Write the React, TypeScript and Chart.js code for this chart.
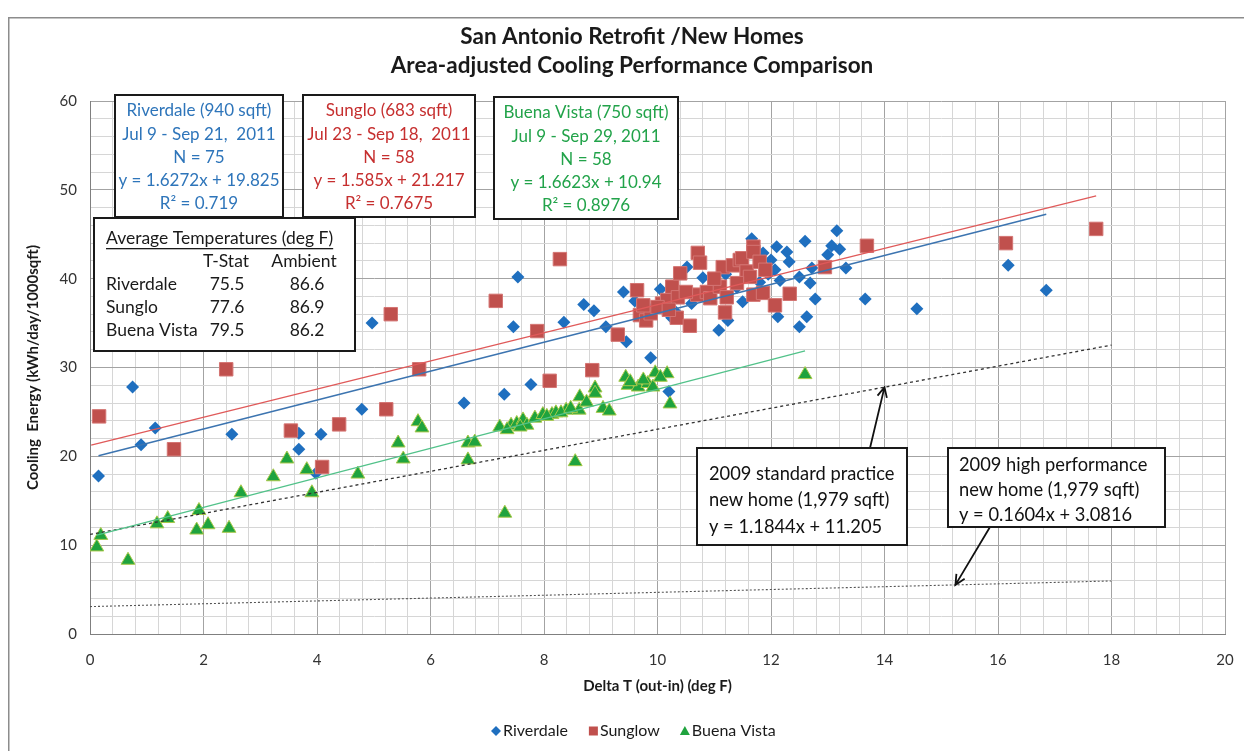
import { useEffect, useRef } from 'react';
import { Chart, registerables } from 'chart.js';

Chart.register(...registerables);

// ---- Measured series (Delta T in deg F, cooling energy in kWh/day/1000sqft) ----
const riverdaleX = [
  0.15, 0.75, 0.9, 1.15, 2.5, 3.68, 3.68, 3.98, 4.07, 4.79, 4.97, 6.59, 7.3, 7.46, 7.54, 7.77,
  8.35, 8.7, 8.88, 9.09, 9.4, 9.45, 9.88, 10.05, 10.2, 10.25, 10.52, 10.8, 11.08, 11.24, 11.5,
  11.66, 11.86, 11.95, 12.0, 12.07, 12.1, 12.16, 12.12, 12.28, 12.32, 12.5, 12.5, 12.6, 12.63,
  12.69, 12.72, 12.78, 13.0, 13.07, 13.16, 13.21, 13.32, 13.66, 14.57, 16.18, 16.85,
  10.3, 10.9, 11.4, 11.8, 9.9, 10.6, 11.2, 9.6,
];
const riverdaleY = [
  17.8, 27.8, 21.3, 23.2, 22.5, 22.6, 20.8, 18.1, 22.5, 25.3, 35.0, 26.0, 27.0, 34.6, 40.2, 28.1,
  35.1, 37.1, 36.4, 34.6, 38.5, 32.9, 31.1, 38.8, 27.3, 35.6, 41.3, 40.1, 34.2, 35.3, 37.4,
  44.5, 42.9, 40.5, 42.1, 41.0, 43.6, 39.8, 35.7, 43.0, 41.9, 40.2, 34.6, 44.2, 35.7,
  39.5, 41.2, 37.7, 42.7, 43.7, 45.4, 43.3, 41.2, 37.7, 36.6, 41.5, 38.7,
  36.4, 38.2, 39.0, 39.6, 36.6, 37.2, 40.5, 37.5,
];

const sungloX = [
  0.16, 1.48, 2.4, 3.54, 4.09, 4.39, 5.22, 5.3, 5.8, 7.15, 7.88, 8.1, 8.28, 8.85, 9.3, 9.64,
  9.69, 9.8, 9.88, 10.08, 10.17, 10.26, 10.34, 10.36, 10.4, 10.57, 10.7, 10.71, 10.75, 10.87,
  10.93, 11.1, 11.15, 11.19, 11.22, 11.33, 11.45, 11.49, 11.57, 11.63, 11.69, 11.69, 11.69,
  11.8, 11.86, 12.07, 12.33, 12.95, 13.69, 16.14, 17.73,
  10.5, 11.0, 10.0, 11.4, 11.9, 10.2, 9.75,
];
const sungloY = [
  24.5, 20.8, 29.8, 22.9, 18.8, 23.6, 25.3, 36.0, 29.8, 37.5, 34.1, 28.5, 42.2, 29.7, 33.7, 38.7,
  35.9, 35.3, 36.1, 37.2, 37.6, 39.1, 35.6, 37.9, 40.6, 34.7, 38.2, 42.9, 41.8, 38.5,
  37.8, 39.1, 41.3, 36.2, 37.9, 41.5, 42.1, 42.3, 40.8, 40.2, 43.6, 43.0, 38.2,
  41.9, 38.4, 37.0, 38.3, 41.3, 43.7, 44.0, 45.6,
  38.5, 40.0, 36.8, 39.5, 41.0, 36.5, 37.0,
];

const buenaVistaX = [
  0.12, 0.19, 0.67, 1.18, 1.37, 1.88, 1.92, 2.08, 2.45, 2.66, 3.23, 3.47, 3.82, 3.91, 4.72,
  5.43, 5.52, 5.78, 5.85, 6.66, 6.78, 6.66, 7.22, 7.31, 7.42, 7.52, 7.63, 7.7, 7.84, 7.98,
  8.14, 8.21, 8.39, 8.55, 8.62, 8.63, 8.9, 8.9, 9.04, 9.15, 9.44, 9.48, 9.66, 9.83, 9.96,
  9.92, 10.17, 10.22, 12.6,
  7.35, 7.58, 8.05, 8.3, 8.47, 9.52, 9.75, 10.05, 8.75,
];
const buenaVistaY = [
  9.8, 11.1, 8.3, 12.4, 13.0, 11.7, 13.9, 12.3, 11.9, 15.9, 17.7, 19.7, 18.5, 15.9, 18.0,
  21.5, 19.7, 23.9, 23.2, 21.5, 21.6, 19.6, 23.3, 13.6, 23.5, 23.7, 24.1, 23.5, 24.3, 24.7,
  24.7, 24.9, 25.2, 19.4, 25.2, 26.7, 27.7, 27.1, 25.4, 25.1, 28.9, 28.0, 27.8, 28.2, 29.4,
  27.8, 29.3, 25.9, 29.2,
  23.0, 23.3, 24.5, 24.9, 25.4, 28.4, 28.6, 28.9, 26.1,
];

// ---- Linear fits: [slope, intercept] and the x span each line covers ----
const riverdaleFit = [1.6272, 19.825];
const sungloFit = [1.585, 21.217];
const buenaVistaFit = [1.6623, 10.94];
const standardFit = [1.1844, 11.205];
const highPerfFit = [0.1604, 3.0816];

const riverdaleFitRange = [0.15, 16.85];
const sungloFitRange = [0.02, 17.73];
const buenaVistaFitRange = [0.12, 12.6];
const referenceFitRange = [0, 18];

// ---- Axis ticks ----
const xTickLabels = [0, 2, 4, 6, 8, 10, 12, 14, 16, 18, 20];
const yTickLabels = [0, 10, 20, 30, 40, 50, 60];

// ---- Text blocks ----
const titleLines = ['San Antonio Retrofit /New Homes', 'Area-adjusted Cooling Performance Comparison'];
const riverdaleBox = ['Riverdale (940 sqft)', 'Jul 9 - Sep 21,  2011', 'N = 75', 'y = 1.6272x + 19.825', 'R² = 0.719'];
const sungloBox = ['Sunglo (683 sqft)', 'Jul 23 - Sep 18,  2011', 'N = 58', 'y = 1.585x + 21.217', 'R² = 0.7675'];
const buenaVistaBox = ['Buena Vista (750 sqft)', 'Jul 9 - Sep 29, 2011', 'N = 58', 'y = 1.6623x + 10.94', 'R² = 0.8976'];
const tempHeaders = ['T-Stat', 'Ambient'];
const tempSites = ['Riverdale', 'Sunglo', 'Buena Vista'];
const tempTStat = ['75.5', '77.6', '79.5'];
const tempAmbient = ['86.6', '86.9', '86.2'];
const standardNote = ['2009 standard practice', 'new home (1,979 sqft)', 'y = 1.1844x + 11.205'];
const highPerfNote = ['2009 high performance', 'new home (1,979 sqft)', 'y = 0.1604x + 3.0816'];
const legendLabels = ['Riverdale', 'Sunglow', 'Buena Vista'];

const BLUE = '#1F6FBF';
const RED = '#C0504D';
const GREEN = '#1FA33E';
const FONT = 'Lato, "Open Sans", sans-serif';

const pts = (xs: number[], ys: number[]) => xs.map((x, i) => ({ x, y: ys[i] }));
const fitLine = (fit: number[], range: number[]) =>
  range.map((x) => ({ x, y: fit[0] * x + fit[1] }));
const isMultiple = (v: number, step: number) => Math.abs(v / step - Math.round(v / step)) < 1e-6;

function drawBox(ctx: CanvasRenderingContext2D, x: number, y: number, w: number, h: number) {
  ctx.save();
  ctx.fillStyle = '#ffffff';
  ctx.fillRect(x, y, w, h);
  ctx.strokeStyle = '#1a1a1a';
  ctx.lineWidth = 2;
  ctx.strokeRect(x, y, w, h);
  ctx.restore();
}

function drawCentredLines(ctx: CanvasRenderingContext2D, lines: string[], cx: number, y0: number, step: number, color: string) {
  ctx.save();
  ctx.fillStyle = color;
  ctx.font = `17px ${FONT}`;
  ctx.textAlign = 'center';
  ctx.textBaseline = 'middle';
  lines.forEach((t, i) => ctx.fillText(t, cx, y0 + i * step));
  ctx.restore();
}

function drawArrow(ctx: CanvasRenderingContext2D, x0: number, y0: number, x1: number, y1: number) {
  const ang = Math.atan2(y1 - y0, x1 - x0);
  const head = 11;
  ctx.save();
  ctx.strokeStyle = '#111';
  ctx.lineWidth = 1.8;
  ctx.beginPath();
  ctx.moveTo(x0, y0);
  ctx.lineTo(x1, y1);
  ctx.moveTo(x1 - head * Math.cos(ang - 0.45), y1 - head * Math.sin(ang - 0.45));
  ctx.lineTo(x1, y1);
  ctx.lineTo(x1 - head * Math.cos(ang + 0.45), y1 - head * Math.sin(ang + 0.45));
  ctx.stroke();
  ctx.restore();
}

const overlayPlugin = {
  id: 'overlay',
  afterDraw(chart: any) {
    const ctx: CanvasRenderingContext2D = chart.ctx;
    const xs = chart.scales.x;
    const ys = chart.scales.y;
    const area = chart.chartArea;
    const cx = (area.left + area.right) / 2;

    // outer frame
    ctx.save();
    ctx.strokeStyle = '#8c8c8c';
    ctx.lineWidth = 1.5;
    ctx.strokeRect(0.75, 9.75, chart.width - 5, chart.height + 20);
    ctx.restore();

    // title
    ctx.save();
    ctx.fillStyle = '#1a1a1a';
    ctx.font = `bold 22.5px ${FONT}`;
    ctx.textAlign = 'center';
    ctx.textBaseline = 'middle';
    ctx.fillText(titleLines[0], 624, 29);
    ctx.fillText(titleLines[1], 624, 58);
    ctx.restore();

    // axis titles
    ctx.save();
    ctx.fillStyle = '#1a1a1a';
    ctx.font = `bold 15px ${FONT}`;
    ctx.textAlign = 'center';
    ctx.textBaseline = 'middle';
    ctx.fillText('Delta T (out-in) (deg F)', cx, 678);
    ctx.translate(25, (area.top + area.bottom) / 2);
    ctx.rotate(-Math.PI / 2);
    ctx.fillText('Cooling  Energy (kWh/day/1000sqft)', 0, 0);
    ctx.restore();

    // site boxes
    drawBox(ctx, 107, 87, 168, 122);
    drawCentredLines(ctx, riverdaleBox, 191, 103, 23.1, '#2E75BA');
    drawBox(ctx, 295, 87, 172, 122);
    drawCentredLines(ctx, sungloBox, 381, 103, 23.1, '#C62F2F');
    drawBox(ctx, 486, 89, 184, 122);
    drawCentredLines(ctx, buenaVistaBox, 578, 105, 23.1, '#22A34A');

    // average temperatures table
    drawBox(ctx, 86, 210, 261, 133);
    ctx.save();
    ctx.fillStyle = '#1a1a1a';
    ctx.font = `17.5px ${FONT}`;
    ctx.textBaseline = 'middle';
    ctx.textAlign = 'left';
    const heading = 'Average Temperatures (deg F)';
    ctx.fillText(heading, 98, 230);
    const hw = ctx.measureText(heading).width;
    ctx.fillRect(98, 240, hw, 1.3);
    ctx.textAlign = 'center';
    ctx.fillText(tempHeaders[0], 218, 253);
    ctx.fillText(tempHeaders[1], 296, 253);
    tempSites.forEach((s, i) => {
      const y = 276 + i * 23;
      ctx.textAlign = 'left';
      ctx.fillText(s, 98, y);
      ctx.textAlign = 'center';
      ctx.fillText(tempTStat[i], 219, y);
      ctx.fillText(tempAmbient[i], 299, y);
    });
    ctx.restore();

    // reference-home notes with arrows to their lines
    const tipStdX = 14;
    const tipHpX = 15.25;
    drawArrow(ctx, 862, 440, xs.getPixelForValue(tipStdX), ys.getPixelForValue(standardFit[0] * tipStdX + standardFit[1]));
    drawArrow(ctx, 982, 519, xs.getPixelForValue(tipHpX), ys.getPixelForValue(highPerfFit[0] * tipHpX + highPerfFit[1]));

    drawBox(ctx, 689, 440, 210, 97);
    drawBox(ctx, 940, 440, 217, 79);
    ctx.save();
    ctx.fillStyle = '#111';
    ctx.font = `18.3px ${FONT}`;
    ctx.textAlign = 'left';
    ctx.textBaseline = 'middle';
    standardNote.forEach((t, i) => ctx.fillText(t, 701, 466 + i * 26.5));
    highPerfNote.forEach((t, i) => ctx.fillText(t, 951, 457 + i * 25));
    ctx.restore();

    // legend
    ctx.save();
    ctx.font = `16px ${FONT}`;
    ctx.textBaseline = 'middle';
    ctx.textAlign = 'left';
    const ly = 723;
    let lx = 483;
    const colors = [BLUE, RED, GREEN];
    legendLabels.forEach((label, i) => {
      ctx.fillStyle = colors[i];
      ctx.beginPath();
      if (i === 0) {
        ctx.moveTo(lx + 5, ly - 5);
        ctx.lineTo(lx + 10, ly);
        ctx.lineTo(lx + 5, ly + 5);
        ctx.lineTo(lx, ly);
      } else if (i === 1) {
        ctx.rect(lx + 1, ly - 4.5, 9, 9);
      } else {
        ctx.moveTo(lx + 5, ly - 5);
        ctx.lineTo(lx + 10, ly + 4);
        ctx.lineTo(lx, ly + 4);
      }
      ctx.closePath();
      ctx.fill();
      ctx.fillStyle = '#1a1a1a';
      ctx.fillText(label, lx + 12, ly);
      lx += 12 + ctx.measureText(label).width + 20;
    });
    ctx.restore();
  },
};

export default function App() {
  const canvasRef = useRef<HTMLCanvasElement | null>(null);

  useEffect(() => {
    if (!canvasRef.current) return;
    const chart = new Chart(canvasRef.current, {
      type: 'scatter',
      data: {
        datasets: [
          {
            label: 'Riverdale fit',
            type: 'line',
            data: fitLine(riverdaleFit, riverdaleFitRange),
            borderColor: '#3C74B0',
            borderWidth: 1.5,
            pointRadius: 0,
            order: 0,
          },
          {
            label: 'Sunglow fit',
            type: 'line',
            data: fitLine(sungloFit, sungloFitRange),
            borderColor: '#E05A5A',
            borderWidth: 1.3,
            pointRadius: 0,
            order: 0,
          },
          {
            label: 'Buena Vista fit',
            type: 'line',
            data: fitLine(buenaVistaFit, buenaVistaFitRange),
            borderColor: '#52C28A',
            borderWidth: 1.3,
            pointRadius: 0,
            order: 0,
          },
          {
            label: '2009 standard practice',
            type: 'line',
            data: fitLine(standardFit, referenceFitRange),
            borderColor: '#333333',
            borderWidth: 1.3,
            borderDash: [3, 3],
            pointRadius: 0,
            order: 0,
          },
          {
            label: '2009 high performance',
            type: 'line',
            data: fitLine(highPerfFit, referenceFitRange),
            borderColor: '#555555',
            borderWidth: 1.1,
            borderDash: [2, 2],
            pointRadius: 0,
            order: 0,
          },
          {
            label: 'Buena Vista',
            data: pts(buenaVistaX, buenaVistaY),
            pointStyle: 'triangle',
            pointRadius: 8,
            backgroundColor: GREEN,
            borderColor: '#A9C94A',
            borderWidth: 1,
            order: 1,
          },
          {
            label: 'Sunglow',
            data: pts(sungloX, sungloY),
            pointStyle: 'rect',
            pointRadius: 9.5,
            backgroundColor: RED,
            borderColor: '#D47573',
            borderWidth: 1,
            order: 2,
          },
          {
            label: 'Riverdale',
            data: pts(riverdaleX, riverdaleY),
            pointStyle: 'rectRot',
            pointRadius: 6.5,
            backgroundColor: BLUE,
            borderColor: BLUE,
            borderWidth: 0,
            order: 3,
          },
        ],
      },
      options: {
        animation: false,
        responsive: false,
        maintainAspectRatio: false,
        layout: { padding: { top: 93, right: 27, left: 0, bottom: 0 } },
        plugins: {
          legend: { display: false },
          tooltip: { enabled: false },
          title: { display: false },
        },
        scales: {
          x: {
            type: 'linear',
            min: 0,
            max: 20,
            afterFit: (s: any) => {
              s.height = 117;
            },
            border: { color: '#7f7f7f', width: 1 },
            grid: {
              drawTicks: false,
              color: (c: any) => (isMultiple(c.tick.value, 2) ? '#a3a3a3' : '#d6d6d6'),
              lineWidth: 1,
            },
            ticks: {
              stepSize: 0.4,
              maxTicksLimit: 100,
              autoSkip: false,
              maxRotation: 0,
              padding: 17,
              color: '#333',
              font: { family: FONT, size: 15 },
              callback: (v: any) => (xTickLabels.some((t) => Math.abs(t - v) < 1e-6) ? String(Math.round(v)) : ''),
            },
          },
          y: {
            type: 'linear',
            min: 0,
            max: 60,
            afterFit: (s: any) => {
              s.width = 82;
            },
            border: { color: '#7f7f7f', width: 1 },
            grid: {
              drawTicks: false,
              color: (c: any) => (isMultiple(c.tick.value, 10) ? '#a3a3a3' : '#d6d6d6'),
              lineWidth: 1,
            },
            ticks: {
              stepSize: 2,
              maxTicksLimit: 100,
              autoSkip: false,
              padding: 13,
              color: '#333',
              font: { family: FONT, size: 15 },
              callback: (v: any) => (yTickLabels.some((t) => Math.abs(t - v) < 1e-6) ? String(Math.round(v)) : ''),
            },
          },
        },
      },
      plugins: [overlayPlugin],
    });
    return () => chart.destroy();
  }, []);

  return (
    <div style={{ width: 1244, height: 743, overflow: 'hidden', background: '#fff' }}>
      <canvas ref={canvasRef} width={1244} height={743} style={{ display: 'block' }} />
    </div>
  );
}
